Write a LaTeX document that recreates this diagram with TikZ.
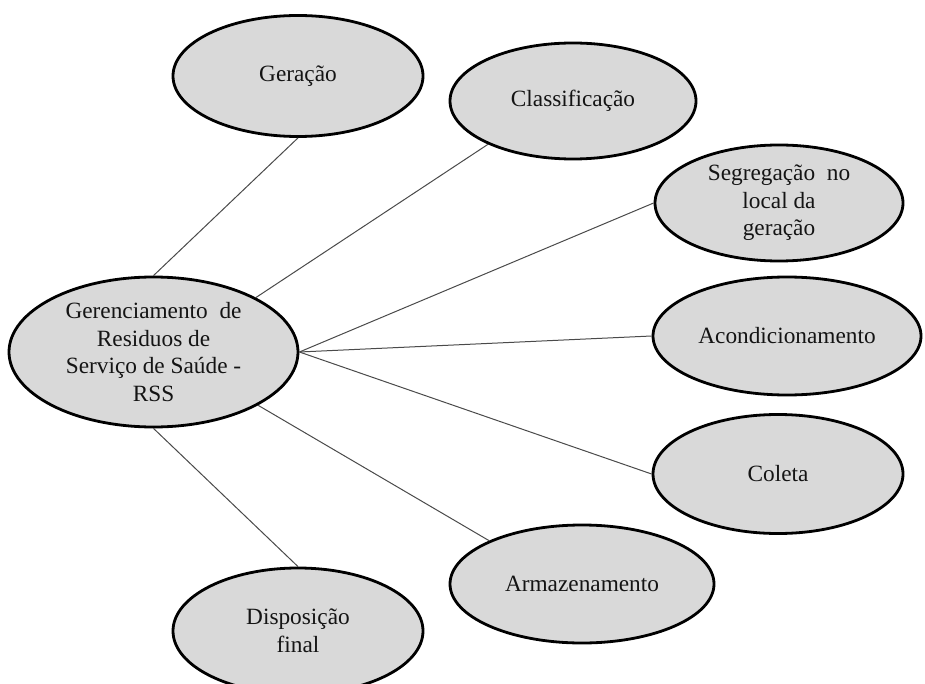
\documentclass[tikz,border=0pt]{standalone}
\usepackage{fontspec}
\setmainfont{Liberation Serif}
\usetikzlibrary{shapes.geometric}
\definecolor{bubble}{HTML}{D9D9D9}
\definecolor{linkgray}{HTML}{4A4A4A}
\definecolor{txt}{HTML}{141414}
\tikzset{
  bubble/.style={ellipse, draw=black, line width=2.8pt, fill=bubble, inner sep=0pt,
    align=center, text=txt, font=\fontsize{23.3}{27.5}\selectfont},
  link/.style={draw=linkgray, line width=1pt}
}
\begin{document}
\begin{tikzpicture}[x=1pt,y=-1pt]
\clip (0,0) rectangle (925,684);
\fill[white] (0,0) rectangle (925,684);
\node[bubble, minimum width=289pt, minimum height=150pt] (ctr) at (153.5,352) {Gerenciamento\ \ de\\Residuos de\\Serviço de Saúde -\\RSS};
\node[bubble, minimum width=250pt, minimum height=121pt] (ger) at (298,76) {Geração};
\node[bubble, minimum width=246pt, minimum height=116pt] (cla) at (573,101) {Classificação};
\node[bubble, minimum width=248pt, minimum height=116pt] (seg) at (779,203) {Segregação\ \ no\\local da\\geração};
\node[bubble, minimum width=268pt, minimum height=118pt] (aco) at (787,336) {Acondicionamento};
\node[bubble, minimum width=250pt, minimum height=119pt] (col) at (778,474) {Coleta};
\node[bubble, minimum width=264pt, minimum height=118pt] (arm) at (582,584) {Armazenamento};
\node[bubble, minimum width=250pt, minimum height=126pt] (dis) at (298,631) {Disposição\\final};
\draw[link] (ger.south) -- (ctr.north);
\draw[link] (cla.-153) -- (ctr.28);
\draw[link] (seg.west) -- (ctr.east);
\draw[link] (aco.west) -- (ctr.east);
\draw[link] (col.west) -- (ctr.east);
\draw[link] (arm.155) -- (ctr.-27);
\draw[link] (dis.north) -- (ctr.south);
\end{tikzpicture}
\end{document}
